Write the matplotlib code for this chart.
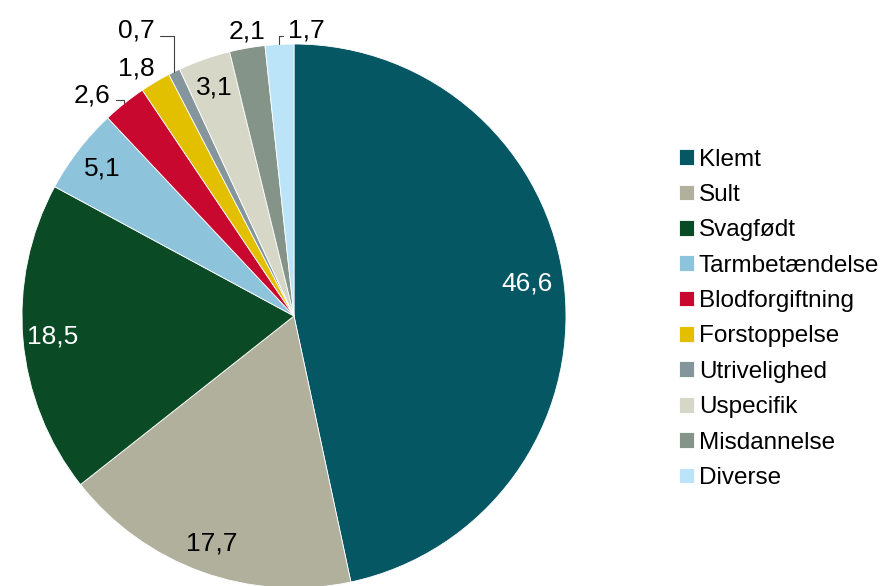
import numpy as np
import matplotlib.pyplot as plt

plt.rcParams['font.family'] = ['Liberation Sans', 'DejaVu Sans']

categories = ["Klemt", "Sult", "Svagfødt", "Tarmbetændelse", "Blodforgiftning",
              "Forstoppelse", "Utrivelighed", "Uspecifik", "Misdannelse", "Diverse"]
values = [46.6, 17.7, 18.5, 5.1, 2.6, 1.8, 0.7, 3.1, 2.1, 1.7]
labels = ["46,6", "17,7", "18,5", "5,1", "2,6", "1,8", "0,7", "3,1", "2,1", "1,7"]

colors = ["#065764", "#b0b09c", "#0a4a25", "#8ec3dc", "#c8082e",
          "#e2c000", "#84969c", "#d7d7c8", "#849488", "#bce4f8"]
text_colors = ["white", "black", "white", "black", "black",
               "black", "black", "black", "black", "black"]
# label placement: None = inside, else (offset x, offset y, leader?) in radius units
outside = [None, None, None, None, (-0.12, 0.03, True), (-0.07, 0.05, False),
           (-0.14, 0.15, True), None, (0.0, 0.06, False), (0.1, 0.05, True)]

W, H = 884, 586
cx, cy, R = 294, 316, 272

fig = plt.figure(figsize=(W / 100, H / 100), dpi=100)
ax = fig.add_axes([0, 0, 1, 1])

wedges, _ = ax.pie(values, colors=colors, startangle=90, counterclock=False,
                   radius=1, center=(0, 0), frame=True,
                   wedgeprops=dict(edgecolor='white', linewidth=0.6))
ax.set_xlim(-cx / R, (W - cx) / R)
ax.set_ylim(-(H - cy) / R, cy / R)
ax.set_aspect('auto')
ax.axis('off')

fs = 19
for i, (w, lab, tc, out) in enumerate(zip(wedges, labels, text_colors, outside)):
    ang = np.deg2rad((w.theta1 + w.theta2) / 2)
    ex, ey = np.cos(ang), np.sin(ang)
    if out is None:
        r = 0.86 if i == 0 else 0.89
        ax.text(r * ex, r * ey + (0.03 if i == 0 else 0), lab, color=tc, fontsize=fs,
                ha='center', va='center')
    else:
        dx, dy, leader = out
        tx, ty = ex + dx, ey + dy
        if leader:
            ax.annotate(lab, xy=(ex, ey), xytext=(tx, ty), fontsize=fs,
                        ha='center', va='center',
                        arrowprops=dict(arrowstyle='-', color='#404040', lw=0.8,
                                        shrinkA=2, shrinkB=0,
                                        relpos=(1, 0.3) if dx < 0 else (0, 0.3),
                                        connectionstyle='angle,angleA=0,angleB=90,rad=0'))
        else:
            ax.text(tx, ty, lab, fontsize=fs, ha='center', va='center')

leg = ax.legend(wedges, categories, loc='center left', bbox_to_anchor=(0.757, 0.456),
                frameon=False, fontsize=17.5, handlelength=0.62, handleheight=0.62,
                handletextpad=0.2, labelspacing=0.55, borderaxespad=0)

fig.savefig('out.png', dpi=100)
